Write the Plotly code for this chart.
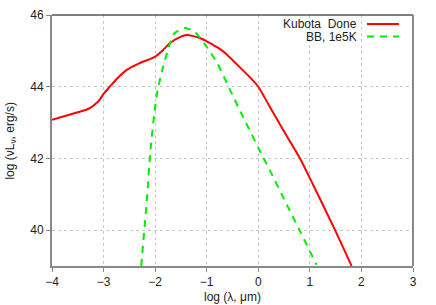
import plotly.graph_objects as go

kubota_x = [-4.0, -3.5, -3.35, -3.26, -3.13, -3.06, -3.0, -2.88, -2.75, -2.55, -2.3, -2.1, -2.0, -1.85, -1.71,
            -1.55, -1.39, -1.13, -0.88, -0.74, -0.61, -0.42, -0.16, 0.0, 0.22, 0.48, 0.81, 1.0, 1.48, 1.81]
kubota_y = [43.08, 43.29, 43.35, 43.41, 43.55, 43.67, 43.8, 44.0, 44.21, 44.47, 44.66, 44.77, 44.84, 45.02, 45.22,
            45.36, 45.44, 45.36, 45.17, 45.05, 44.9, 44.63, 44.26, 44.0, 43.45, 42.8, 42.0, 41.45, 40.03, 39.0]

bb_x = [-2.27, -2.16, -2.09, -2.0, -1.95, -1.85, -1.71, -1.62, -1.42, -1.23, -1.0, -0.80, -0.55,
        -0.30, 0.09, 0.22, 0.55, 0.81, 1.13]
bb_y = [39.0, 40.86, 42.25, 43.44, 43.92, 44.53, 45.22, 45.5, 45.64, 45.53, 45.11, 44.67, 43.92,
        43.17, 42.04, 41.68, 40.72, 39.97, 39.03]

series_names = ["Kubota  Done", "BB, 1e5K"]
x_ticks = [-4, -3, -2, -1, 0, 1, 2, 3]
y_ticks = [40, 42, 44, 46]

FONT = "Liberation Sans, Arial, sans-serif"
TXT = "#222222"

fig = go.Figure()
fig.add_trace(go.Scatter(x=kubota_x, y=kubota_y, mode="lines", name=series_names[0],
                         line=dict(color="#ff0000", width=2, shape="spline", smoothing=0.6)))
fig.add_trace(go.Scatter(x=bb_x, y=bb_y, mode="lines", name=series_names[1],
                         line=dict(color="#00ee00", width=2, dash="7px,6px", shape="spline", smoothing=0.6)))

axis_common = dict(showgrid=True, gridcolor="#c8c8c8", griddash="dot", gridwidth=1,
                   showline=True, linecolor="#888888", linewidth=2, zeroline=False,
                   ticks="outside", ticklen=4, tickcolor="#888888", automargin=False,
                   tickfont=dict(family=FONT, size=12, color=TXT))

fig.update_layout(
    width=436, height=305,
    margin=dict(l=52, r=23, t=15, b=39),
    paper_bgcolor="white", plot_bgcolor="white",
    showlegend=False,
    xaxis=dict(range=[-4, 3], tickvals=x_ticks, **axis_common),
    yaxis=dict(range=[39, 46], tickvals=y_ticks, **axis_common),
)

# axis titles
fig.add_annotation(xref="paper", yref="paper", x=0.5, y=-0.1223, text="log (λ, μm)",
                   showarrow=False, xanchor="center", yanchor="middle",
                   font=dict(family=FONT, size=12, color=TXT))
fig.add_annotation(xref="paper", yref="paper", x=-0.116, y=0.5, text="log (νL<sub>ν</sub>, erg/s)",
                   showarrow=False, xanchor="center", yanchor="middle", textangle=-90,
                   font=dict(family=FONT, size=12, color=TXT))

# top and right frame
fig.add_shape(type="line", xref="paper", yref="paper", x0=0, x1=1, y0=1, y1=1,
              line=dict(color="#000000", width=1))
fig.add_shape(type="line", xref="paper", yref="paper", x0=1, x1=1, y0=0, y1=1,
              line=dict(color="#888888", width=2))

# gnuplot-style legend (text right, sample on the right)
legend_rows = [0.964, 0.914]
legend_styles = [dict(color="#ff0000", width=2), dict(color="#00ee00", width=2, dash="7px,6px")]
for name, yy, st in zip(series_names, legend_rows, legend_styles):
    fig.add_annotation(xref="paper", yref="paper", x=0.8476, y=yy, text=name.replace("  ", "&nbsp; "),
                       showarrow=False, xanchor="right", yanchor="middle", height=12, borderpad=0,
                       font=dict(family=FONT, size=12, color=TXT))
    fig.add_shape(type="line", xref="paper", yref="paper", x0=0.8726, x1=0.9612, y0=yy, y1=yy, line=st)

fig.write_html("out.html", config={"displayModeBar": False},
               post_script="document.body.style.margin='0';")
